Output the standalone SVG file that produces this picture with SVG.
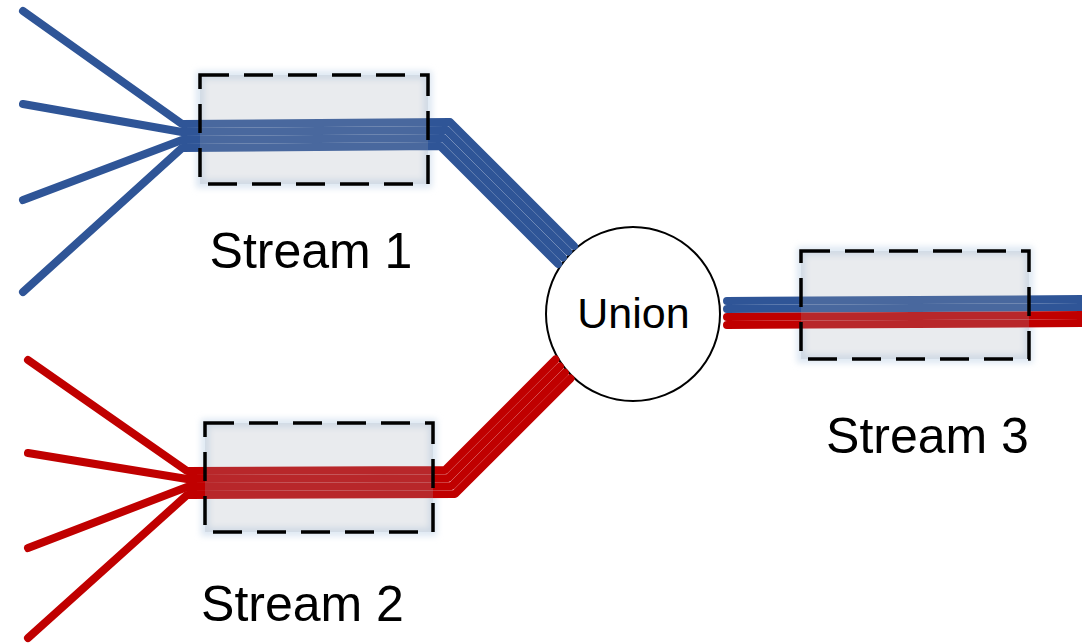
<svg xmlns="http://www.w3.org/2000/svg" width="1082" height="643" viewBox="0 0 1082 643">
  <style>
    .label { font-family: "Liberation Sans", Arial, sans-serif; fill: #000; text-anchor: middle; }
    .stream-label { font-size: 50px; }
    .union-label { font-size: 43px; }
    .blue { fill: none; stroke: #2F5597; stroke-width: 8; stroke-linecap: round; stroke-linejoin: round; }
    .red { fill: none; stroke: #C00000; stroke-width: 8; stroke-linecap: round; stroke-linejoin: round; }
    .box { fill: #A0A8B4; fill-opacity: 0.23; stroke: #000; stroke-width: 3.5; stroke-dasharray: 29 15; }
    .glow { fill: none; stroke: #DCE6F2; stroke-width: 8; filter: url(#soft); }
  </style>
  <defs>
    <filter id="soft" x="-10%" y="-20%" width="120%" height="140%">
      <feGaussianBlur stdDeviation="3"/>
    </filter>
  </defs>

  <rect width="1082" height="643" fill="#FFFFFF"/>

  <!-- soft halo around the stream windows -->
  <g id="halos">
    <rect class="glow" x="200" y="75" width="228" height="109"/>
    <rect class="glow" x="205" y="423" width="228" height="109"/>
    <rect class="glow" x="801" y="251" width="228" height="108"/>
  </g>

  <!-- union operator -->
  <g id="union">
    <circle cx="633" cy="314" r="87" fill="#FFFFFF" stroke="#000" stroke-width="2"/>
    <text class="label union-label" x="633.5" y="328">Union</text>
  </g>

  <!-- event flows -->
  <g id="connectors">
    <!-- blue flows into stream 1 and on to the union -->
    <polyline class="blue" points="23,11 182,124 450,122 574,246"/>
    <polyline class="blue" points="23,104 182,132 446.7,130 568.2,251.5"/>
    <polyline class="blue" points="23,200 182,140 443.4,138 562.9,257.5"/>
    <polyline class="blue" points="23,292 182,148 440.1,146 558.1,264"/>
    <!-- red flows into stream 2 and on to the union -->
    <polyline class="red" points="28,360 187,471 445.1,470 555.4,359.6"/>
    <polyline class="red" points="28,453 187,479 448.4,478 559.9,366.5"/>
    <polyline class="red" points="28,548 187,487 451.7,486 564.9,372.8"/>
    <polyline class="red" points="28,638 187,495 455,494 570.4,378.6"/>
    <!-- merged output -->
    <line class="blue" x1="727" y1="301" x2="1095" y2="299"/>
    <line class="blue" x1="727" y1="309" x2="1095" y2="307"/>
    <line class="red" x1="727" y1="317" x2="1095" y2="315"/>
    <line class="red" x1="727" y1="325" x2="1095" y2="323"/>
  </g>

  <g id="stream1">
    <rect class="box" x="200" y="75" width="228" height="109"/>
    <text class="label stream-label" x="311" y="268">Stream 1</text>
  </g>

  <g id="stream2">
    <rect class="box" x="205" y="423" width="228" height="109"/>
    <text class="label stream-label" x="302.5" y="621">Stream 2</text>
  </g>

  <g id="stream3">
    <rect class="box" x="801" y="251" width="228" height="108"/>
    <text class="label stream-label" x="927.5" y="453">Stream 3</text>
  </g>
</svg>
